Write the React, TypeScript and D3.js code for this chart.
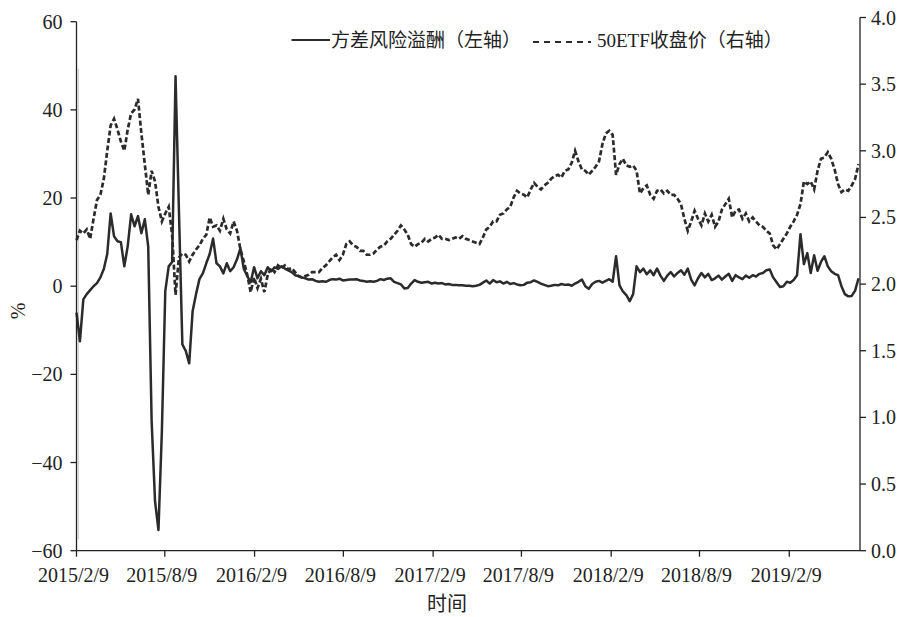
import React from "react";
import * as d3 from "d3";

// ---- data (weekly observations starting 2015-02-09) ----
const startDate = "2015-02-09";
const endDate = "2019-07-04";

// 方差风险溢酬 (%), left axis
const vrp = [
  -6, -12.5, -3, -1.8, -0.9, 0, 0.7, 2.0, 3.9, 7.3,
  16.5, 11.3, 10.2, 10.0, 4.5, 9.1, 16.3, 13.6, 15.9, 12.0,
  15.2, 9.0, -30.6, -48.8, -55.3, -32.9, -1.1, 4.5, 5.5, 47.6,
  17.0, -13.2, -14.7, -17.5, -5.7, -1.8, 1.6, 2.9, 5.2, 7.3,
  10.8, 5.2, 4.5, 2.9, 5.2, 3.4, 4.3, 6.1, 8.6, 3.9,
  2.3, 0.9, 4.3, 1.8, 3.4, 2.5, 4.3, 3.4, 4.3, 3.9,
  4.5, 4.0, 3.6, 3.2, 2.5, 2.3, 2.0, 1.8, 1.5, 1.6,
  1.2, 1.0, 1.1, 1.0, 1.4, 1.6, 1.5, 1.7, 1.3, 1.4,
  1.5, 1.5, 1.6, 1.3, 1.2, 1.0, 1.1, 1.0, 1.2, 1.6,
  1.4, 1.7, 1.8, 1.0, 0.7, 0.4, -0.5, -0.4, 0.6, 1.4,
  1.0, 0.8, 0.9, 1.0, 0.6, 0.8, 0.6, 0.7, 0.4, 0.5,
  0.3, 0.3, 0.2, 0.2, 0.1, 0.1, 0.0, 0.1, 0.3, 0.8,
  1.3, 0.6, 1.4, 0.9, 1.1, 0.6, 1.0, 0.5, 0.7, 0.4,
  0.2, 0.3, 0.8, 0.9, 1.3, 1.0, 0.6, 0.3, 0.0, 0.1,
  0.3, 0.2, 0.5, 0.3, 0.4, 0.1, 0.6, 1.0, 1.5, 0.0,
  -0.6, 0.5, 1.0, 1.2, 0.8, 1.2, 1.6, 1.0, 6.8, 0.2,
  -1.2, -2.0, -3.4, -1.8, 4.5, 3.2, 4.0, 2.7, 3.6, 2.5,
  4.0, 2.4, 1.2, 2.4, 3.2, 2.2, 3.0, 3.6, 2.6, 4.0,
  1.5, 0.2, 1.8, 3.0, 2.0, 2.8, 1.4, 1.8, 2.4, 1.5,
  2.2, 2.8, 1.2, 2.5, 2.0, 1.6, 2.4, 1.9, 2.5, 2.2,
  2.8, 3.0, 3.6, 3.8, 2.0, 0.9, -0.2, 0.0, 1.0, 0.8,
  1.4, 2.5, 11.8, 5.0, 7.5, 3.0, 7.0, 3.5, 5.5, 6.8,
  4.5, 3.4, 2.8, 2.5, 0.0, -1.8, -2.3, -2.2, -1.0, 1.8,
];

// 50ETF收盘价, right axis
const etf = [
  2.33, 2.40, 2.38, 2.41, 2.34, 2.49, 2.63, 2.67, 2.79, 3.00,
  3.19, 3.24, 3.16, 3.07, 3.00, 3.16, 3.28, 3.31, 3.39, 3.13,
  2.90, 2.67, 2.85, 2.77, 2.58, 2.47, 2.53, 2.58, 2.37, 1.92,
  2.20, 2.23, 2.22, 2.17, 2.22, 2.26, 2.29, 2.34, 2.37, 2.50,
  2.43, 2.44, 2.40, 2.49, 2.41, 2.38, 2.47, 2.40, 2.26, 2.17,
  2.07, 1.94, 2.05, 1.97, 2.04, 1.94, 2.07, 2.12, 2.09, 2.14,
  2.12, 2.14, 2.11, 2.12, 2.09, 2.06, 2.05, 2.06, 2.07, 2.09,
  2.09, 2.09, 2.12, 2.14, 2.17, 2.20, 2.22, 2.18, 2.22, 2.30,
  2.32, 2.29, 2.28, 2.25, 2.25, 2.22, 2.22, 2.23, 2.26, 2.28,
  2.29, 2.32, 2.34, 2.37, 2.40, 2.44, 2.41, 2.37, 2.30, 2.28,
  2.30, 2.31, 2.34, 2.32, 2.34, 2.35, 2.37, 2.34, 2.34, 2.33,
  2.34, 2.35, 2.34, 2.36, 2.34, 2.33, 2.32, 2.31, 2.30, 2.35,
  2.41, 2.43, 2.47, 2.47, 2.52, 2.53, 2.56, 2.58, 2.65, 2.70,
  2.68, 2.67, 2.65, 2.71, 2.76, 2.73, 2.71, 2.74, 2.76, 2.79,
  2.81, 2.82, 2.80, 2.85, 2.86, 2.91, 3.00, 2.92, 2.86, 2.85,
  2.82, 2.85, 2.88, 2.92, 3.05, 3.13, 3.15, 3.12, 2.82, 2.90,
  2.94, 2.89, 2.88, 2.89, 2.85, 2.68, 2.72, 2.74, 2.67, 2.64,
  2.70, 2.71, 2.68, 2.70, 2.67, 2.67, 2.64, 2.60, 2.49, 2.40,
  2.47, 2.55, 2.49, 2.44, 2.53, 2.47, 2.52, 2.43, 2.47, 2.56,
  2.60, 2.64, 2.50, 2.55, 2.56, 2.49, 2.53, 2.47, 2.50, 2.47,
  2.44, 2.43, 2.40, 2.38, 2.29, 2.26, 2.30, 2.34, 2.38, 2.43,
  2.47, 2.52, 2.60, 2.77, 2.75, 2.77, 2.71, 2.85, 2.94, 2.95,
  2.99, 2.94, 2.86, 2.75, 2.69, 2.71, 2.70, 2.74, 2.79, 2.90,
];

const xTickLabels = [
  "2015/2/9", "2015/8/9", "2016/2/9", "2016/8/9", "2017/2/9",
  "2017/8/9", "2018/2/9", "2018/8/9", "2019/2/9",
];
const leftTicks = [60, 40, 20, 0, -20, -40, -60];
const rightTicks = [4.0, 3.5, 3.0, 2.5, 2.0, 1.5, 1.0, 0.5, 0.0];
const legendLabels = ["方差风险溢酬（左轴）", "50ETF收盘价（右轴）"];
const xTitle = "时间";
const yTitle = "%";

const W = 900;
const H = 617;
const left = 76.5;
const right = 860;
const bottom = 550.7;
const FONT = "'Liberation Serif', 'Times New Roman', 'Noto Sans CJK SC', serif";
const INK = "#222";
const LINE = "#2b2b2b";

const parseSlash = (s: string) => {
  const [y, m, d] = s.split("/").map(Number);
  return new Date(Date.UTC(y, m - 1, d));
};

export default function App() {
  const start = d3.utcParse("%Y-%m-%d")(startDate)!;
  const end = d3.utcParse("%Y-%m-%d")(endDate)!;
  const dates = vrp.map((_, i) => d3.utcDay.offset(start, 7 * i));

  const x = d3.scaleUtc().domain([start, end]).range([left, right]);
  const yL = d3.scaleLinear().domain([-60, 60]).range([bottom, 21.7]);
  const yR = d3.scaleLinear().domain([0, 4]).range([bottom, 17.5]);

  const lineL = d3
    .line<number>()
    .x((_, i) => x(dates[i]))
    .y((d) => yL(d))
    .curve(d3.curveLinear);
  const lineR = d3
    .line<number>()
    .x((_, i) => x(dates[i]))
    .y((d) => yR(d))
    .curve(d3.curveLinear);

  const fmtLeft = (v: number) => (v < 0 ? "\u2212" + Math.abs(v) : String(v));

  return (
    <svg
      width={W}
      height={H}
      viewBox={`0 0 ${W} ${H}`}
      style={{ position: "absolute", left: 0, top: 0, display: "block", background: "#fff" }}
    >
      <rect x={0} y={0} width={W} height={H} fill="#fff" />

      {/* faint inner vertical line near left axis */}
      <line x1={78.3} x2={78.3} y1={69} y2={539} stroke="#c8c8c8" strokeWidth={1} />

      {/* data lines */}
      <path d={lineR(etf) || ""} fill="none" stroke={LINE} strokeWidth={2.7} strokeDasharray="5,2.5" />
      <path d={lineL(vrp) || ""} fill="none" stroke={LINE} strokeWidth={2.5} strokeLinejoin="round" />

      {/* left axis */}
      <line x1={left} x2={left} y1={21.7} y2={bottom} stroke={INK} strokeWidth={1.3} />
      {leftTicks.map((t) => (
        <g key={"l" + t}>
          <line x1={left - 6} x2={left} y1={yL(t)} y2={yL(t)} stroke={INK} strokeWidth={1.3} />
          <text
            x={left - 14}
            y={yL(t)}
            dy="0.35em"
            textAnchor="end"
            fontFamily={FONT}
            fontSize={20}
            fill={INK}
          >
            {fmtLeft(t)}
          </text>
        </g>
      ))}

      {/* right axis */}
      <line x1={right} x2={right} y1={17.5} y2={bottom} stroke={INK} strokeWidth={1.3} />
      {rightTicks.map((t) => (
        <g key={"r" + t}>
          <line x1={right} x2={right + 6} y1={yR(t)} y2={yR(t)} stroke={INK} strokeWidth={1.3} />
          <text
            x={right + 11}
            y={yR(t)}
            dy="0.35em"
            textAnchor="start"
            fontFamily={FONT}
            fontSize={20}
            fill={INK}
          >
            {t.toFixed(1)}
          </text>
        </g>
      ))}

      {/* bottom axis */}
      <line x1={left} x2={right} y1={bottom} y2={bottom} stroke={INK} strokeWidth={1.3} />
      {xTickLabels.map((lab) => {
        const xv = x(parseSlash(lab));
        return (
          <g key={lab}>
            <line x1={xv} x2={xv} y1={bottom} y2={bottom + 6} stroke={INK} strokeWidth={1.3} />
            <text
              x={xv - 3}
              y={581.5}
              textAnchor="middle"
              fontFamily={FONT}
              fontSize={20}
              fill={INK}
            >
              {lab}
            </text>
          </g>
        );
      })}

      {/* axis titles */}
      <text
        x={447}
        y={611}
        textAnchor="middle"
        fontFamily={FONT}
        fontSize={20}
        fill={INK}
      >
        {xTitle}
      </text>
      <text
        transform={`translate(25,311) rotate(-90)`}
        textAnchor="middle"
        fontFamily={FONT}
        fontSize={20}
        fill={INK}
      >
        {yTitle}
      </text>

      {/* legend */}
      <line x1={291.5} x2={330} y1={40} y2={40} stroke={LINE} strokeWidth={2.2} />
      <text x={331} y={46.5} fontFamily={FONT} fontSize={19} fill={INK}>
        {legendLabels[0]}
      </text>
      <line x1={533} x2={591} y1={42} y2={42} stroke={LINE} strokeWidth={2} strokeDasharray="6,5" />
      <text x={597} y={46.5} fontFamily={FONT} fontSize={19} fill={INK}>
        {legendLabels[1]}
      </text>
    </svg>
  );
}
